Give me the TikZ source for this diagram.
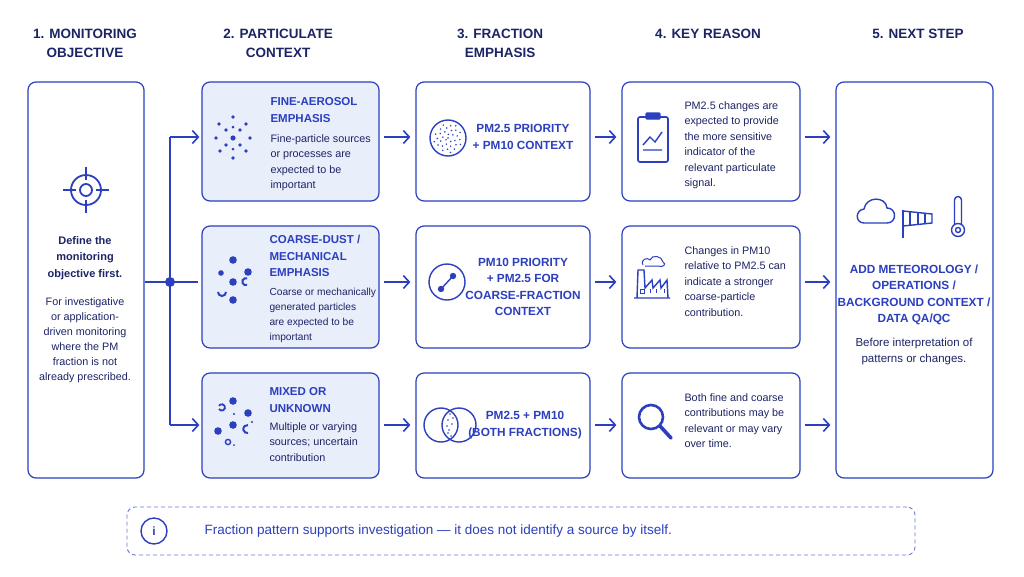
\documentclass[tikz,border=0pt]{standalone}
\usepackage{fontspec}
\setmainfont{Liberation Sans}
\usetikzlibrary{arrows.meta}
\definecolor{bl}{HTML}{2B3FBF}
\definecolor{tx}{HTML}{1C2466}
\definecolor{lf}{HTML}{E9EEFB}
\begin{document}
\begin{tikzpicture}[x=1pt,y=-1pt,
  box/.style={draw=bl,line width=1.2pt,rounded corners=8pt},
  hd/.style={font=\bfseries\fontsize{13.5}{19}\selectfont,text=tx,align=center},
  ttl/.style={font=\bfseries\fontsize{11.5}{16.5}\selectfont,text=bl,align=left,anchor=north west},
  bod/.style={font=\fontsize{10.8}{15.5}\selectfont,text=tx,align=left,anchor=north west},
  ctr/.style={font=\bfseries\fontsize{11.8}{16.5}\selectfont,text=bl,align=center},
  arr/.style={draw=bl,line width=1.6pt,-{Straight Barb[length=6pt,width=13pt]}},
  ic/.style={draw=bl,line width=1.4pt}]
\useasboundingbox[fill=white] (0,0) rectangle (1024,576);
% headers
\node[hd] (h1) at (85,43) {1. MONITORING\\OBJECTIVE};
\node[hd] (h2) at (278,43) {2. PARTICULATE\\CONTEXT};
\node[hd] (h3) at (500,43) {3. FRACTION\\EMPHASIS};
\node[hd] (h4) at (708,34) {4. KEY REASON};
\node[hd] (h5) at (918,34) {5. NEXT STEP};
% boxes
\node[box,minimum width=116,minimum height=396] (c1) at (86,280) {};
\node[box,fill=lf,minimum width=177,minimum height=119] (a2) at (290.5,141.5) {};
\node[box,fill=lf,minimum width=177,minimum height=122] (b2) at (290.5,287) {};
\node[box,fill=lf,minimum width=177,minimum height=105] (d2) at (290.5,425.5) {};
\node[box,minimum width=174,minimum height=119] (a3) at (503,141.5) {};
\node[box,minimum width=174,minimum height=122] (b3) at (503,287) {};
\node[box,minimum width=174,minimum height=105] (d3) at (503,425.5) {};
\node[box,minimum width=178,minimum height=119] (a4) at (711,141.5) {};
\node[box,minimum width=178,minimum height=122] (b4) at (711,287) {};
\node[box,minimum width=178,minimum height=105] (d4) at (711,425.5) {};
\node[box,minimum width=157,minimum height=396] (c5) at (914.5,280) {};
% col1 content
\draw[ic,line width=1.8pt] (86,190) circle (15) (86,190) circle (6);
\draw[ic,line width=1.8pt] (86,167)--(86,180) (86,200)--(86,213) (63,190)--(76,190) (96,190)--(109,190);
\node[font=\bfseries\fontsize{11}{16.5}\selectfont,text=tx,align=center] (t1) at (85,258) {Define the\\monitoring\\objective first.};
\node[font=\fontsize{10.8}{15}\selectfont,text=tx,align=center] (t1b) at (85,340) {For investigative\\or application-\\driven monitoring\\where the PM\\fraction is not\\already prescribed.};
% junction
\coordinate (j) at (170,282);
\coordinate (jt) at (170,137);
\coordinate (jb) at (170,425);
\draw[bl,line width=1.6pt] (c1.east|-j) -- (198,282);
\draw[bl,line width=1.6pt] (jt) -- (jb);
\fill[bl] (j) circle (5);
\draw[arr] (jt) -- ([xshift=-2pt]a2.west|-jt);
\draw[arr] (jb) -- ([xshift=-2pt]d2.west|-jb);
% arrows
\foreach \u/\v/\y in {a2/a3/137,b2/b3/282,d2/d3/425,a3/a4/137,b3/b4/282,d3/d4/425,a4/c5/137,b4/c5/282,d4/c5/425}{
  \draw[arr] ([xshift=4pt]\u.east|-0,\y) -- ([xshift=-5pt]\v.west|-0,\y);}
% col2 texts
\node[ttl] at (267,94) {FINE-AEROSOL\\EMPHASIS};
\node[bod] at (267,131) {Fine-particle sources\\or processes are\\expected to be\\important};
\node[ttl] at (266,232) {COARSE-DUST /\\MECHANICAL\\EMPHASIS};
\node[bod,font=\fontsize{10.2}{15}\selectfont] at (266,285) {Coarse or mechanically\\generated particles\\are expected to be\\important};
\node[ttl] at (266,384) {MIXED OR\\UNKNOWN};
\node[bod] at (266,419) {Multiple or varying\\sources; uncertain\\contribution};
% col2 icons
\foreach \x/\y/\r in {233/117/1.9,219/124/1.9,246/124/1.9,226/130/1.9,240/130/1.9,233/127/1.5,216/138/1.9,233/138/2.6,250/138/1.9,226/145/1.9,240/145/1.9,233/149/1.5,220/151/1.9,246/151/1.9,233/158/1.9}
  \fill[bl] (\x,\y) circle (\r);
\foreach \x/\y/\r in {233/260/3.8,248/272/3.8,233/282/3.8,233/300/3.8}
  \fill[bl] (\x,\y) circle (\r);
\draw[ic,line width=2pt] (218,292) arc (180:0:4); \draw[ic,line width=2pt] (247,285) arc (70:290:3.5);
\fill[bl] (221,273) circle (2.8);
\foreach \x/\y/\r in {233/401/3.8,248/413/3.8,233/425/3.8,218/431/3.8}
  \fill[bl] (\x,\y) circle (\r);
\draw[ic,line width=1.8pt] (219,409) arc (150:-150:3.2); \draw[ic] (228,442) circle (2.6); \draw[ic,line width=2pt] (248,433) arc (80:280:4);
\fill[bl] (234,414) circle (1.2) (252,422) circle (1.2) (234,445) circle (1);
% col3 texts & icons
\node[ctr] at (523,137) {PM2.5 PRIORITY\\+ PM10 CONTEXT};
\draw[ic] (448,138) circle (18);
\foreach \i in {0,...,32}{\pgfmathsetmacro{\a}{\i*137.5}\pgfmathsetmacro{\rr}{2.6*sqrt(\i)}\fill[bl] ({448+\rr*cos(\a)},{138+\rr*sin(\a)}) circle (0.85);}
\node[ctr] at (523,287) {PM10 PRIORITY\\+ PM2.5 FOR\\COARSE-FRACTION\\CONTEXT};
\draw[ic] (447,282) circle (18);
\draw[ic] (441,289)--(453,276); \fill[bl] (441,289) circle (3.2) (453,276) circle (3.2);
\node[ctr] at (525,425) {PM2.5 + PM10\\(BOTH FRACTIONS)};
\draw[ic] (441,425) circle (17) (459,425) circle (17);
\foreach \x/\y in {450/414,448/420,452/424,449/430,451/436,447/426,453/418,448/433}\fill[bl] (\x,\y) circle (0.9);
% col4 texts
\node[bod] at (681,98) {PM2.5 changes are\\expected to provide\\the more sensitive\\indicator of the\\relevant particulate\\signal.};
\node[bod] at (681,243) {Changes in PM10\\relative to PM2.5 can\\indicate a stronger\\coarse-particle\\contribution.};
\node[bod] at (681,390) {Both fine and coarse\\contributions may be\\relevant or may vary\\over time.};
% col4 icons
\draw[ic,line width=1.7pt,rounded corners=2pt] (638,117) rectangle (668,162);
\draw[ic,fill=bl,rounded corners=1pt] (646,113) rectangle (660,119);
\draw[ic] (643,145)--(650,137)--(655,142)--(662,132) (643,150)--(662,150);
\draw[ic] (634,298)--(670,298) (637,298)--(638,270)--(644,270)--(645,288)--(652,280)--(653,288)--(660,280)--(661,288)--(667,280)--(668,298);
\draw[ic,line width=1pt] (640,293) rectangle (644,289) (650,289)--(650,293) (656,289)--(656,293) (664,289)--(664,293);
\draw[ic,line width=1pt] (643,265) .. controls (640,259) and (648,257) .. (650,260) .. controls (652,254) and (662,256) .. (663,262) .. controls (667,264) and (663,268) .. (658,266) -- (645,266);
\draw[ic,line width=2.6pt] (651,417) circle (12);
\draw[bl,line width=3.6pt,line cap=round] (660,426)--(671,438);
% col5
\draw[ic] (864,223) .. controls (855,223) and (855,210) .. (864,209) .. controls (866,196) and (886,196) .. (887,208) .. controls (897,208) and (897,223) .. (887,223) -- cycle;
\draw[ic] (903,210)--(903,238);
\draw[ic] (903,211)--(932,214)--(932,223)--(903,226);
\draw[ic] (910,212)--(910,225) (918,212)--(918,224) (925,213)--(925,223);
\draw[ic] (954.5,224) -- (954.5,200) arc (180:360:3.5) -- (961.5,224);
\draw[ic,fill=white] (958,230) circle (6.5);
\draw[ic] (958,230) circle (2.5);
\node[ctr] (t5) at (914,295) {ADD METEOROLOGY /\\OPERATIONS /\\BACKGROUND CONTEXT /\\DATA QA/QC};
\node[font=\fontsize{11.5}{16}\selectfont,text=tx,align=center] at (914,352) {Before interpretation of\\patterns or changes.};
% bottom
\node[draw=bl!70,line width=0.9pt,dash pattern=on 4pt off 3pt,rounded corners=8pt,minimum width=788,minimum height=48] (bt) at (521,531) {};
\draw[ic] (154,531) circle (13);
\node[font=\bfseries\fontsize{12}{12}\selectfont,text=bl] at (154,531) {i};
\node[font=\fontsize{13.5}{14}\selectfont,text=bl,anchor=west] at (201,531) {Fraction pattern supports investigation — it does not identify a source by itself.};
\end{tikzpicture}
\end{document}
